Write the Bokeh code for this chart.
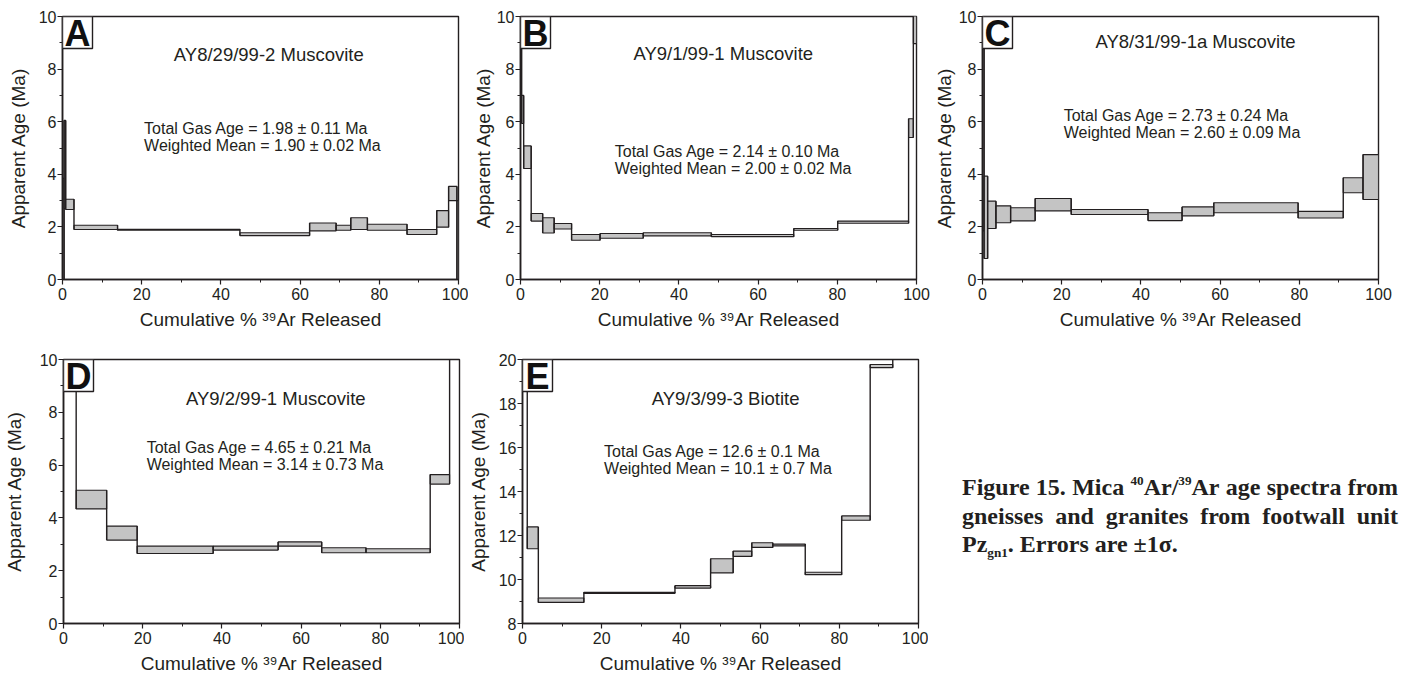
from bokeh.plotting import figure
from bokeh.models import Range1d, Label, SingleIntervalTicker, Div, BoxAnnotation
from bokeh.layouts import row, column
from bokeh.embed import file_html
from bokeh.resources import INLINE

# ---------------- data (cumulative % 39Ar step edges, age lower/upper bounds in Ma) -------------
a_edges = [0, 0.4, 0.8, 2.9, 13.9, 44.8, 62.4, 69.1, 72.8, 77.0, 87.0, 94.5, 97.5, 99.6, 100]
a_lo = [0.0, 2.70, 2.66, 1.90, 1.87, 1.67, 1.85, 1.87, 1.90, 1.87, 1.71, 1.99, 3.00, 0.0]
a_hi = [3.85, 6.05, 3.05, 2.06, 1.91, 1.78, 2.15, 2.06, 2.35, 2.10, 1.90, 2.62, 3.54, 3.00]

b_edges = [0, 0.3, 0.8, 2.7, 5.6, 8.5, 12.9, 20.1, 31.0, 48.2, 69.0, 80.1, 98.0, 99.2, 100]
b_lo = [8.90, 5.93, 4.22, 2.22, 1.77, 1.92, 1.49, 1.57, 1.66, 1.63, 1.87, 2.14, 5.40, 8.97]
b_hi = [12.0, 7.00, 5.08, 2.51, 2.35, 2.13, 1.71, 1.75, 1.78, 1.71, 1.94, 2.22, 6.11, 11.0]

c_edges = [0, 0.4, 1.3, 3.4, 7.1, 13.3, 22.4, 41.8, 50.4, 58.4, 79.7, 91.1, 96.1, 100]
c_lo = [1.85, 0.80, 1.94, 2.16, 2.23, 2.61, 2.47, 2.24, 2.42, 2.54, 2.34, 3.30, 3.04]
c_hi = [12.0, 3.93, 2.98, 2.80, 2.73, 3.08, 2.66, 2.54, 2.76, 2.92, 2.59, 3.87, 4.75]

d_edges = [0, 3.2, 10.9, 18.6, 37.8, 54.2, 65.2, 76.4, 92.6, 97.5, 100]
d_lo = [12.0, 4.34, 3.16, 2.65, 2.78, 2.93, 2.68, 2.68, 5.28, 12.0]
d_hi = [13.0, 5.05, 3.69, 2.93, 2.93, 3.09, 2.87, 2.83, 5.64, 13.0]

e_edges = [0, 1.2, 4.0, 15.5, 38.5, 47.5, 53.2, 57.9, 63.2, 71.4, 80.6, 87.8, 93.5, 100]
e_lo = [21.0, 11.40, 8.96, 9.37, 9.61, 10.30, 11.05, 11.46, 11.53, 10.22, 12.69, 19.63, 21.0]
e_hi = [23.0, 12.39, 9.16, 9.42, 9.72, 10.94, 11.29, 11.67, 11.61, 10.33, 12.89, 19.77, 23.0]

samples = ["AY8/29/99-2 Muscovite", "AY9/1/99-1 Muscovite", "AY8/31/99-1a Muscovite",
           "AY9/2/99-1 Muscovite", "AY9/3/99-3 Biotite"]
total_gas = ["Total Gas Age = 1.98 \u00b1 0.11 Ma", "Total Gas Age = 2.14 \u00b1 0.10 Ma",
             "Total Gas Age = 2.73 \u00b1 0.24 Ma", "Total Gas Age = 4.65 \u00b1 0.21 Ma",
             "Total Gas Age = 12.6 \u00b1 0.1 Ma"]
weighted = ["Weighted Mean = 1.90 \u00b1 0.02 Ma", "Weighted Mean = 2.00 \u00b1 0.02 Ma",
            "Weighted Mean = 2.60 \u00b1 0.09 Ma", "Weighted Mean = 3.14 \u00b1 0.73 Ma",
            "Weighted Mean = 10.1 \u00b1 0.7 Ma"]
letters = ["A", "B", "C", "D", "E"]
y_ranges = [(0, 10), (0, 10), (0, 10), (0, 10), (8, 20)]

INK = "#231f20"
FONT = "Liberation Sans"
FW = 396


def make_panel(i, edges, lo, hi, fh, borders, ylab_standoff, title_pos, stats_pos):
    left, right, top, bottom = borders
    y0, y1 = y_ranges[i]
    p = figure(frame_width=FW, frame_height=fh, x_range=Range1d(0, 100), y_range=Range1d(y0, y1),
               output_backend="svg", toolbar_location=None,
               min_border_left=left, min_border_right=right, min_border_top=top, min_border_bottom=bottom,
               background_fill_color="white", border_fill_color="white")
    p.grid.visible = False
    p.outline_line_color = INK
    p.outline_line_width = 1.4
    p.outline_line_alpha = 1.0
    p.xaxis.ticker = SingleIntervalTicker(interval=20, num_minor_ticks=2)
    p.yaxis.ticker = SingleIntervalTicker(interval=2, num_minor_ticks=2)
    for ax in (p.xaxis[0], p.yaxis[0]):
        ax.axis_line_color = INK
        ax.axis_line_width = 1.6
        ax.major_tick_line_color = INK
        ax.minor_tick_line_color = INK
        ax.major_tick_line_width = 1.2
        ax.minor_tick_line_width = 1.0
        ax.major_tick_out = 5
        ax.major_tick_in = 0
        ax.minor_tick_out = 3
        ax.minor_tick_in = 0
        ax.major_label_text_font = FONT
        ax.major_label_text_font_size = "16px"
        ax.major_label_text_color = INK
        ax.axis_label_text_font = FONT
        ax.axis_label_text_font_size = "19px"
        ax.axis_label_text_font_style = "normal"
        ax.axis_label_text_color = INK
    p.xaxis.major_label_standoff = 3
    p.yaxis.major_label_standoff = 1
    p.xaxis.axis_label_standoff = 6
    p.yaxis.axis_label_standoff = ylab_standoff
    p.xaxis.axis_label = "Cumulative % \u00b3\u2079Ar Released"
    p.yaxis.axis_label = "Apparent Age (Ma)"

    n = len(lo)
    p.quad(left=edges[:-1], right=edges[1:], bottom=lo, top=hi,
           fill_color="#c4c4c4", line_color=INK, line_width=1.1)
    cx = [edges[k] for k in range(1, n)]
    cy0 = [min(lo[k - 1], lo[k]) for k in range(1, n)]
    cy1 = [max(hi[k - 1], hi[k]) for k in range(1, n)]
    p.segment(x0=cx, y0=cy0, x1=cx, y1=cy1, line_color=INK, line_width=1.4)

    p.add_layout(Label(x=title_pos[0], y=title_pos[1], text=samples[i], text_align="center",
                       text_baseline="middle", text_font=FONT, text_font_size="18.5px", text_color=INK))
    dy = (y1 - y0) * 17.0 / fh
    p.add_layout(Label(x=stats_pos[0], y=stats_pos[1], text=total_gas[i], text_align="left",
                       text_baseline="middle", text_font=FONT, text_font_size="16px", text_color=INK))
    p.add_layout(Label(x=stats_pos[0], y=stats_pos[1] - dy, text=weighted[i], text_align="left",
                       text_baseline="middle", text_font=FONT, text_font_size="16px", text_color=INK))

    # letter box in the upper-left corner
    bw = 30.0 / FW * 100
    bh = 32.0 / fh * (y1 - y0)
    p.add_layout(BoxAnnotation(left=0, right=bw, bottom=y1 - bh, top=y1, fill_color="white",
                               fill_alpha=1.0, line_color=INK, line_width=1.4, line_alpha=1.0))
    p.add_layout(Label(x=bw / 2, y=y1 - bh / 2, text=letters[i], text_align="center",
                       text_baseline="middle", text_font=FONT, text_font_size="36px",
                       text_font_style="bold", text_color="#111111", y_offset=-1))
    return p


pA = make_panel(0, a_edges, a_lo, a_hi, 263, (62, 10, 16, 61), 7, (52.1, 8.56), (20.6, 5.76))
pB = make_panel(1, b_edges, b_lo, b_hi, 263, (52, 14, 16, 61), 0, (51.2, 8.58), (23.8, 4.85))
pC = make_panel(2, c_edges, c_lo, c_hi, 263, (52, 26, 16, 61), 1, (53.8, 9.06), (20.5, 6.22))
pD = make_panel(3, d_edges, d_lo, d_hi, 264, (62, 5, 19, 54), 12, (53.6, 8.52), (21.0, 6.67))
pE = make_panel(4, e_edges, e_lo, e_hi, 264, (56, 10, 19, 54), 7, (51.3, 18.25), (20.6, 15.84))

sup = '<sup style="font-size:0.55em;line-height:0;vertical-align:0.75em;">'
caption_html = (
    '<div style="padding-left:29px;padding-top:128px;width:465px;box-sizing:border-box;'
    'font-family:\'Liberation Serif\',serif;font-weight:bold;font-size:24px;'
    'line-height:28.5px;color:#231f20;">'
    '<div style="white-space:nowrap;display:flex;justify-content:space-between;">'
    '<span>Figure</span><span>15.</span><span>Mica</span>'
    '<span>' + sup + '40</sup>Ar/' + sup + '39</sup>Ar</span>'
    '<span>age</span><span>spectra</span><span>from</span></div>'
    '<div style="white-space:nowrap;display:flex;justify-content:space-between;">'
    '<span>gneisses</span><span>and</span><span>granites</span><span>from</span>'
    '<span>footwall</span><span>unit</span></div>'
    '<div style="white-space:nowrap;">Pz<sub style="font-size:0.55em;line-height:0;vertical-align:-0.35em;">gn1</sub>.'
    ' Errors are \u00b11\u03c3.</div>'
    '</div>'
)
cap = Div(text=caption_html, width=1404 - 925, height=337, styles={"overflow": "hidden"})

layout = column(row(pA, pB, pC), row(pD, pE, cap))
open("out.html", "w").write(file_html(layout, INLINE))
